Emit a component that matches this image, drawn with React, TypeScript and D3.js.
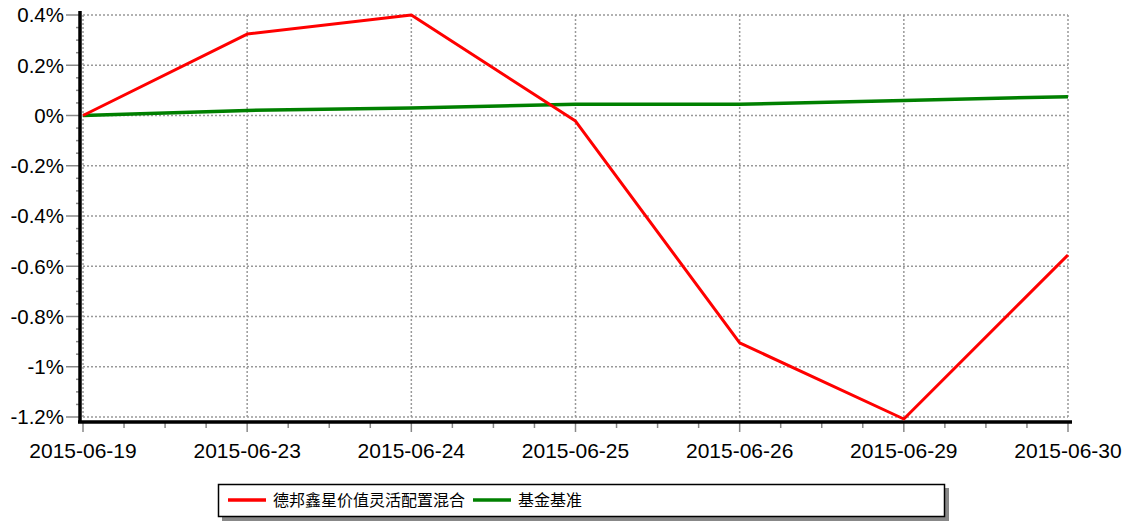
import { useEffect, useRef } from 'react';
import * as d3 from 'd3';

// dates on the x axis
const dates = ['2015-06-19', '2015-06-23', '2015-06-24', '2015-06-25', '2015-06-26', '2015-06-29', '2015-06-30'];
// fund return, %
const fundValues = [0, 0.324, 0.4, -0.022, -0.905, -1.208, -0.555];
// benchmark return, %
const benchValues = [0, 0.02, 0.03, 0.045, 0.045, 0.06, 0.075];
const yTicks = [0.4, 0.2, 0, -0.2, -0.4, -0.6, -0.8, -1, -1.2];
const seriesNames = ['德邦鑫星价值灵活配置混合', '基金基准'];

const W = 1129;
const H = 525;

const App = () => {
  const ref = useRef<SVGSVGElement>(null);

  useEffect(() => {
    const svg = d3.select(ref.current);
    svg.selectAll('*').remove();

    const x = d3.scalePoint<string>().domain(dates).range([83, 1068]);
    const y = d3.scaleLinear().domain([-1.2, 0.4]).range([417, 15]);

    const grid = svg.append('g').attr('stroke', '#999').attr('stroke-width', 1.5).attr('stroke-dasharray', '2,2');
    yTicks.forEach((t) => {
      grid.append('line').attr('x1', 83).attr('x2', 1068).attr('y1', y(t)).attr('y2', y(t));
    });
    dates.forEach((d) => {
      grid.append('line').attr('x1', x(d)!).attr('x2', x(d)!).attr('y1', 15).attr('y2', 417);
    });

    // x axis with minor ticks
    const step = x.step();
    const xt = svg.append('g').attr('stroke', '#888').attr('stroke-width', 1.5);
    dates.forEach((d, i) => {
      const px = x(d)!;
      xt.append('line').attr('x1', px).attr('x2', px).attr('y1', 423).attr('y2', 432);
      if (i < dates.length - 1) {
        for (let k = 1; k < 4; k++) {
          const mx = px + (step * k) / 4;
          xt.append('line').attr('x1', mx).attr('x2', mx).attr('y1', 423).attr('y2', 428);
        }
      }
    });
    // y axis ticks
    const yt = svg.append('g').attr('stroke', '#888').attr('stroke-width', 1.5);
    yTicks.forEach((t, i) => {
      yt.append('line').attr('x1', 66).attr('x2', 80).attr('y1', y(t)).attr('y2', y(t));
      if (i < yTicks.length - 1) {
        for (let k = 1; k < 4; k++) {
          const my = y(t - (0.2 * k) / 4);
          yt.append('line').attr('x1', 76).attr('x2', 80).attr('y1', my).attr('y2', my);
        }
      }
    });

    svg.append('line').attr('x1', 80).attr('x2', 80).attr('y1', 11).attr('y2', 423).attr('stroke', '#000').attr('stroke-width', 3.5);
    svg.append('line').attr('x1', 78).attr('x2', 1072).attr('y1', 422).attr('y2', 422).attr('stroke', '#000').attr('stroke-width', 3.5);

    svg.append('g')
      .selectAll('text')
      .data(yTicks)
      .join('text')
      .attr('x', 64)
      .attr('y', (d) => y(d))
      .attr('dy', '0.36em')
      .attr('text-anchor', 'end')
      .attr('font-family', 'Liberation Sans, Arial, sans-serif')
      .attr('font-size', 20.5)
      .text((d) => `${+d.toFixed(1)}%`);

    svg.append('g')
      .selectAll('text')
      .data(dates)
      .join('text')
      .attr('x', (d) => x(d)!)
      .attr('y', 458)
      .attr('text-anchor', 'middle')
      .attr('font-family', 'Liberation Sans, Arial, sans-serif')
      .attr('font-size', 21)
      .text((d) => d);

    const line = d3.line<number>().x((_, i) => x(dates[i])!).y((v) => y(v));
    svg.append('path').attr('d', line(benchValues)).attr('fill', 'none').attr('stroke', '#008000').attr('stroke-width', 3.5);
    svg.append('path').attr('d', line(fundValues)).attr('fill', 'none').attr('stroke', '#ff0000').attr('stroke-width', 3).attr('stroke-linejoin', 'round');

    // legend
    const lg = svg.append('g');
    lg.append('rect').attr('x', 222).attr('y', 488).attr('width', 727).attr('height', 33).attr('fill', '#888');
    lg.append('rect').attr('x', 218.5).attr('y', 484.5).attr('width', 726).attr('height', 32).attr('fill', '#fff').attr('stroke', '#000').attr('stroke-width', 1.5);
    const colors = ['#ff0000', '#008000'];
    const starts = [228, 473];
    seriesNames.forEach((n, i) => {
      lg.append('line').attr('x1', starts[i]).attr('x2', starts[i] + 38).attr('y1', 500).attr('y2', 500).attr('stroke', colors[i]).attr('stroke-width', 3.5);
      lg.append('text')
        .attr('x', starts[i] + 45)
        .attr('y', 500)
        .attr('dy', '0.36em')
        .attr('font-family', 'Noto Sans CJK SC')
        .attr('font-size', 16)
        .text(n);
    });
  }, []);

  return <svg ref={ref} width={W} height={H} style={{ position: 'absolute', left: 0, top: 0, background: '#fff' }} />;
};

export default App;
